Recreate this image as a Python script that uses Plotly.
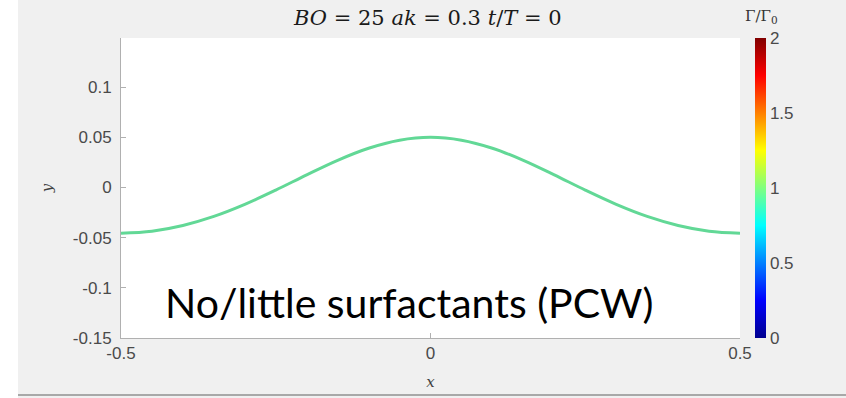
import plotly.graph_objects as go

# superfície livre (t/T = 0)
x_surf = [-0.5, -0.45, -0.4, -0.35, -0.3, -0.25, -0.2, -0.15, -0.1, -0.05, 0.0,
          0.05, 0.1, 0.15, 0.2, 0.25, 0.3, 0.35, 0.4, 0.45, 0.5]
y_surf = [-0.0455, -0.0435, -0.0378, -0.0288, -0.0168, -0.0026, 0.0126, 0.0271,
          0.0391, 0.0471, 0.0500, 0.0471, 0.0391, 0.0271, 0.0126, -0.0026,
          -0.0168, -0.0288, -0.0378, -0.0435, -0.0455]
gamma_level = 0.96  # Γ/Γ0 ao longo da superfície

x_ticks = [-0.5, 0, 0.5]
y_ticks = [-0.15, -0.1, -0.05, 0, 0.05, 0.1]
cb_ticks = [0, 0.5, 1, 1.5, 2]

jet = [[0.0, 'rgb(0,0,143)'], [0.125, 'rgb(0,0,255)'], [0.375, 'rgb(0,255,255)'],
       [0.625, 'rgb(255,255,0)'], [0.875, 'rgb(255,0,0)'], [1.0, 'rgb(128,0,0)']]

W, H = 846, 398
L, R, T, B = 121, 106, 38, 60
pw = W - L - R
ph = H - T - B

tick_font = dict(family='Liberation Sans', size=17, color='#4a4a4a')

fig = go.Figure()

fig.add_trace(go.Scatter(
    x=x_surf, y=y_surf, mode='lines',
    line=dict(color='rgb(98,216,150)', width=3, shape='spline'),
    showlegend=False, hoverinfo='skip'
))

# traço fantasma só para a barra de cores
fig.add_trace(go.Scatter(
    x=[x_surf[0]], y=[y_surf[0]], mode='markers',
    marker=dict(size=0.1, opacity=0, color=[gamma_level], cmin=0, cmax=2,
                colorscale=jet, showscale=True,
                colorbar=dict(x=(755 - L) / pw, xanchor='left', xref='paper',
                              y=0, yanchor='bottom', len=1, lenmode='fraction',
                              thickness=11, outlinewidth=0, ticks='',
                              tickvals=cb_ticks, ticktext=['0', '0.5', '1', '1.5', '2'],
                              tickfont=tick_font, ypad=0, xpad=0)),
    showlegend=False, hoverinfo='skip'
))

axis_common = dict(showgrid=False, zeroline=False, showline=True, linecolor='#b0b0b0',
                   linewidth=1, ticks='inside', ticklen=5, tickcolor='#b0b0b0',
                   tickfont=tick_font)

fig.update_xaxes(range=[-0.5, 0.5], tickvals=x_ticks, ticktext=['-0.5', '0', '0.5'],
                 title=dict(text='<i>x</i>', standoff=14,
                            font=dict(family='DejaVu Serif', size=15, color='#404040')),
                 **axis_common)
fig.update_yaxes(range=[-0.15, 0.149], tickvals=y_ticks,
                 ticktext=['-0.15', '-0.1', '-0.05', '0', '0.05', '0.1'],
                 ticklabelstandoff=5,
                 title=dict(text='<i>y</i>', standoff=16,
                            font=dict(family='DejaVu Serif', size=15, color='#404040')),
                 **axis_common)

fig.update_layout(
    width=W, height=H,
    margin=dict(l=L, r=R, t=T, b=B, autoexpand=False),
    paper_bgcolor='#f0f0f0',
    plot_bgcolor='white',
    showlegend=False,
    shapes=[
        dict(type='rect', xref='paper', yref='paper', layer='above',
             x0=-L / pw, x1=(18 - L) / pw, y0=-B / ph, y1=(H - B) / ph,
             fillcolor='white', line=dict(width=0)),
        dict(type='line', xref='paper', yref='paper', layer='above',
             x0=(18 - L) / pw, x1=(W - L) / pw, y0=-(B - 3) / ph, y1=-(B - 3) / ph,
             line=dict(color='#a8a8a8', width=2)),
    ],
    annotations=[
        dict(text='<i>BO</i> = 25 <i>ak</i> = 0.3 <i>t</i>/<i>T</i> = 0',
             xref='paper', yref='paper', x=(427 - L) / pw, y=(H - B - 18) / ph,
             yanchor='middle', xanchor='center', showarrow=False,
             font=dict(family='DejaVu Serif', size=21, color='#1a1a1a')),
        dict(text='Γ/Γ<sub>0</sub>', xref='paper', yref='paper',
             x=(761 - L) / pw, y=(H - B - 16) / ph, xanchor='center', yanchor='middle',
             showarrow=False, font=dict(family='DejaVu Serif', size=15, color='#333333')),
        dict(text='No/little surfactants (PCW)', xref='x', yref='y',
             x=-0.5 + (409 - L) / pw, y=-0.115, xanchor='center', yanchor='middle',
             showarrow=False, font=dict(family='Lato', size=41, color='black')),
    ],
)

fig.write_html("out.html", config={'displayModeBar': False},
               post_script="document.body.style.margin='0';")
